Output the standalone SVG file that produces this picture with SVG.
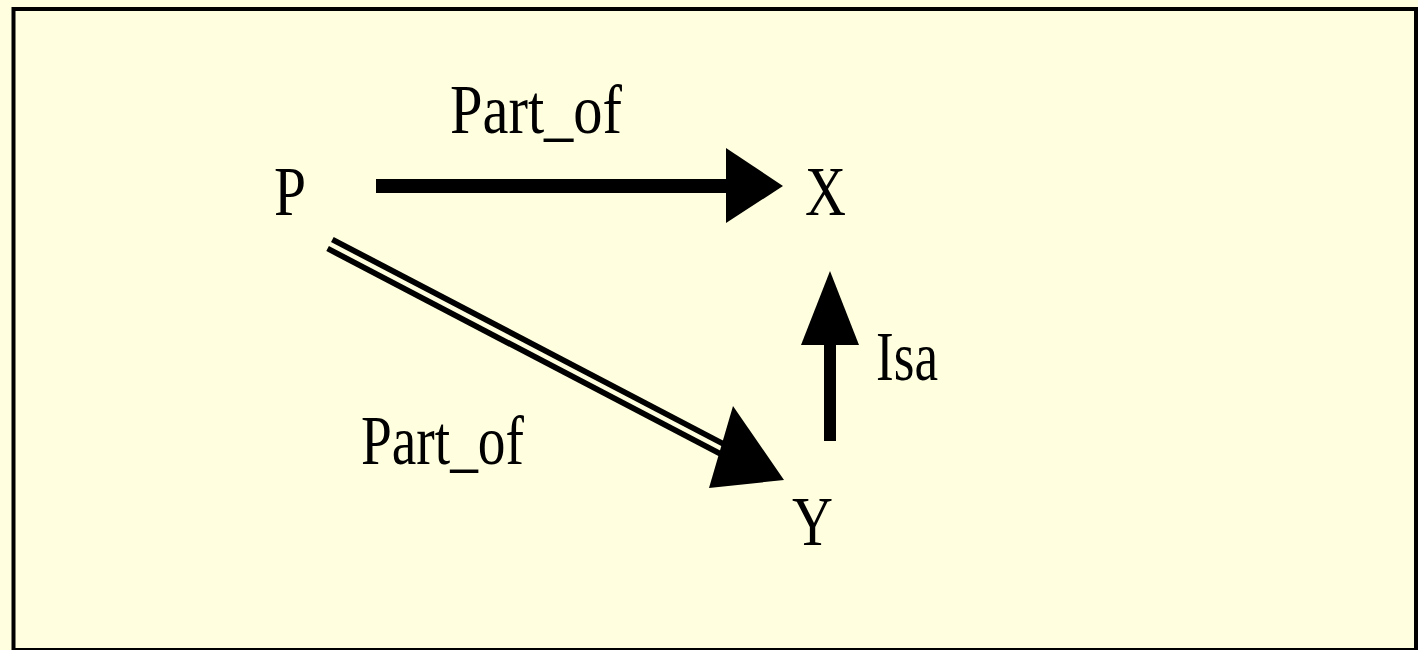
<svg xmlns="http://www.w3.org/2000/svg" width="1418" height="650" viewBox="0 0 1418 650">
<style>
text { font-family: "Liberation Serif", "Times New Roman", serif; font-size: 70px; fill: #000; }
</style>
<rect x="0" y="0" width="1418" height="650" fill="#FFFFE0"/>
<rect x="13.5" y="9" width="1402.5" height="641" fill="#FFFFE0" stroke="#000" stroke-width="4"/>
<g id="connectors">
  <g id="edge-p-x">
    <rect x="376" y="179" width="352" height="14" fill="#000"/>
    <polygon points="726,148 783,186 726,223" fill="#000"/>
  </g>
  <g id="edge-p-y">
    <line x1="330" y1="244" x2="724" y2="450" stroke="#000" stroke-width="16"/>
    <line x1="328" y1="243" x2="726" y2="451" stroke="#FFFFE0" stroke-width="4.5"/>
    <polygon points="733,406 784,480 709,488" fill="#000"/>
  </g>
  <g id="edge-y-x">
    <rect x="824" y="344" width="12" height="97" fill="#000"/>
    <polygon points="801,345 859,345 830,271" fill="#000"/>
  </g>
  <text x="450" y="133" textLength="172" lengthAdjust="spacingAndGlyphs">Part_of</text>
  <text x="361" y="464" textLength="163" lengthAdjust="spacingAndGlyphs">Part_of</text>
  <text x="876" y="380" textLength="62" lengthAdjust="spacingAndGlyphs">Isa</text>
</g>
<g id="node-p"><text x="274" y="215" textLength="32" lengthAdjust="spacingAndGlyphs">P</text></g>
<g id="node-x"><text x="805" y="215" textLength="41" lengthAdjust="spacingAndGlyphs">X</text></g>
<g id="node-y"><text x="792" y="545" textLength="41" lengthAdjust="spacingAndGlyphs">Y</text></g>
</svg>
